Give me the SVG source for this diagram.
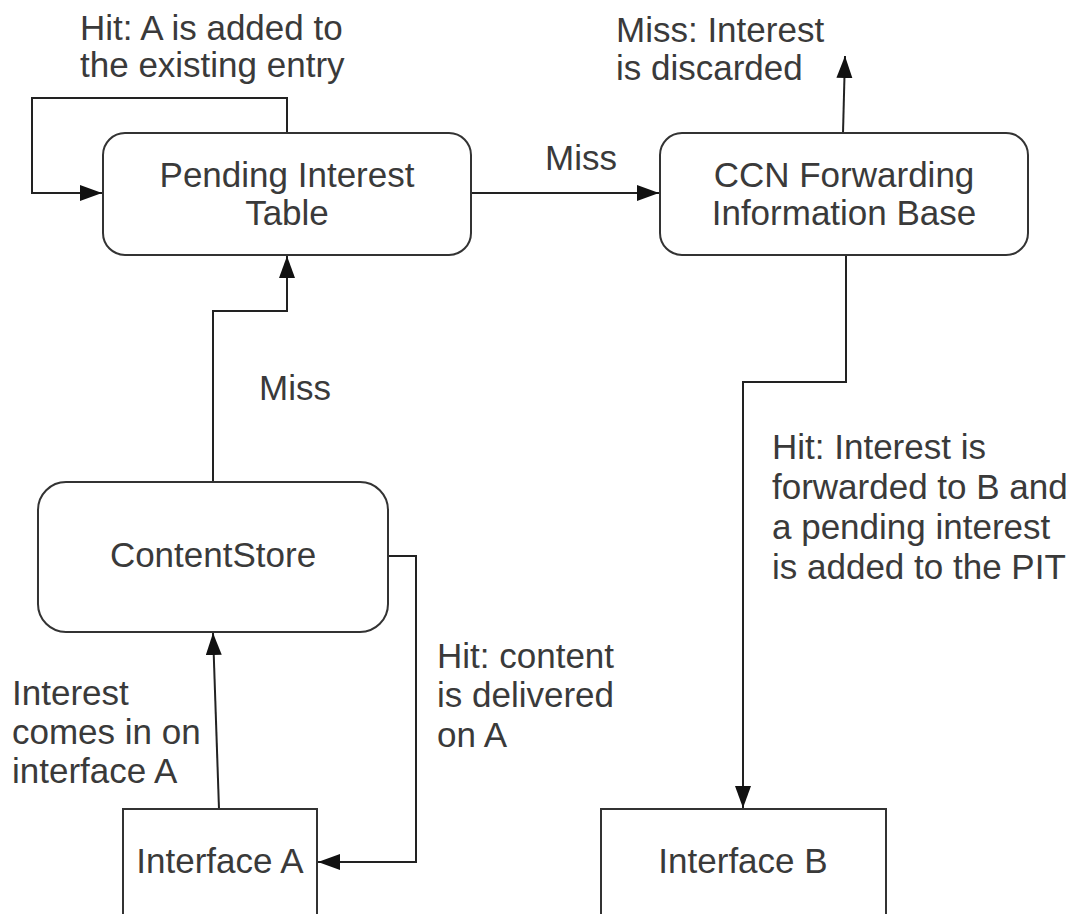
<svg xmlns="http://www.w3.org/2000/svg" width="1079" height="914" viewBox="0 0 1079 914">
  <style>
    .box { fill: #ffffff; stroke: #333333; stroke-width: 2; }
    .edge { fill: none; stroke: #222222; stroke-width: 2; }
    text { font-family: "Liberation Sans", Arial, sans-serif; font-size: 35px; fill: #3a3a3a; }
    .c { text-anchor: middle; }
  </style>
  <defs>
    <marker id="arrow" markerUnits="userSpaceOnUse" markerWidth="24" markerHeight="18" refX="22" refY="8" orient="auto">
      <path d="M0,0 L22,8 L0,16 Z" fill="#111111"/>
    </marker>
  </defs>
  <rect width="1079" height="914" fill="#ffffff"/>

  <!-- connectors -->
  <g id="connectors">
    <path class="edge" d="M287,133 V98 H32 V193 H102" marker-end="url(#arrow)"/>
    <path class="edge" d="M471,193 H659" marker-end="url(#arrow)"/>
    <path class="edge" d="M843,133 L845,56" marker-end="url(#arrow)"/>
    <path class="edge" d="M846,255 V382 H743 V808" marker-end="url(#arrow)"/>
    <path class="edge" d="M213,482 V311 H287 V256" marker-end="url(#arrow)"/>
    <path class="edge" d="M388,556 H416 V862 H318" marker-end="url(#arrow)"/>
    <path class="edge" d="M219,809 L213,633" marker-end="url(#arrow)"/>
  </g>

  <!-- edge labels -->
  <g id="labels">
    <text x="80" y="40">Hit: A is added to</text>
    <text x="80" y="77">the existing entry</text>
    <text x="616" y="42">Miss: Interest</text>
    <text x="616" y="80">is discarded</text>
    <text x="545" y="170">Miss</text>
    <text x="259" y="400">Miss</text>
    <text x="772" y="459">Hit: Interest is</text>
    <text x="772" y="499">forwarded to B and</text>
    <text x="772" y="539">a pending interest</text>
    <text x="772" y="579">is added to the PIT</text>
    <text x="437" y="668">Hit: content</text>
    <text x="437" y="707">is delivered</text>
    <text x="437" y="747">on A</text>
    <text x="12" y="705">Interest</text>
    <text x="12" y="744">comes in on</text>
    <text x="12" y="783">interface A</text>
  </g>

  <g id="pit">
    <rect class="box" x="103" y="133" width="368" height="122" rx="22"/>
    <text class="c" x="287" y="187">Pending Interest</text>
    <text class="c" x="287" y="225">Table</text>
  </g>

  <g id="fib">
    <rect class="box" x="660" y="133" width="368" height="122" rx="22"/>
    <text class="c" x="844" y="187">CCN Forwarding</text>
    <text class="c" x="844" y="225">Information Base</text>
  </g>

  <g id="content-store">
    <rect class="box" x="38" y="482" width="350" height="150" rx="28"/>
    <text class="c" x="213" y="567">ContentStore</text>
  </g>

  <g id="interface-a">
    <rect class="box" x="123" y="809" width="194" height="130"/>
    <text class="c" x="220" y="873">Interface A</text>
  </g>

  <g id="interface-b">
    <rect class="box" x="601" y="809" width="285" height="130"/>
    <text class="c" x="743" y="873">Interface B</text>
  </g>
</svg>
